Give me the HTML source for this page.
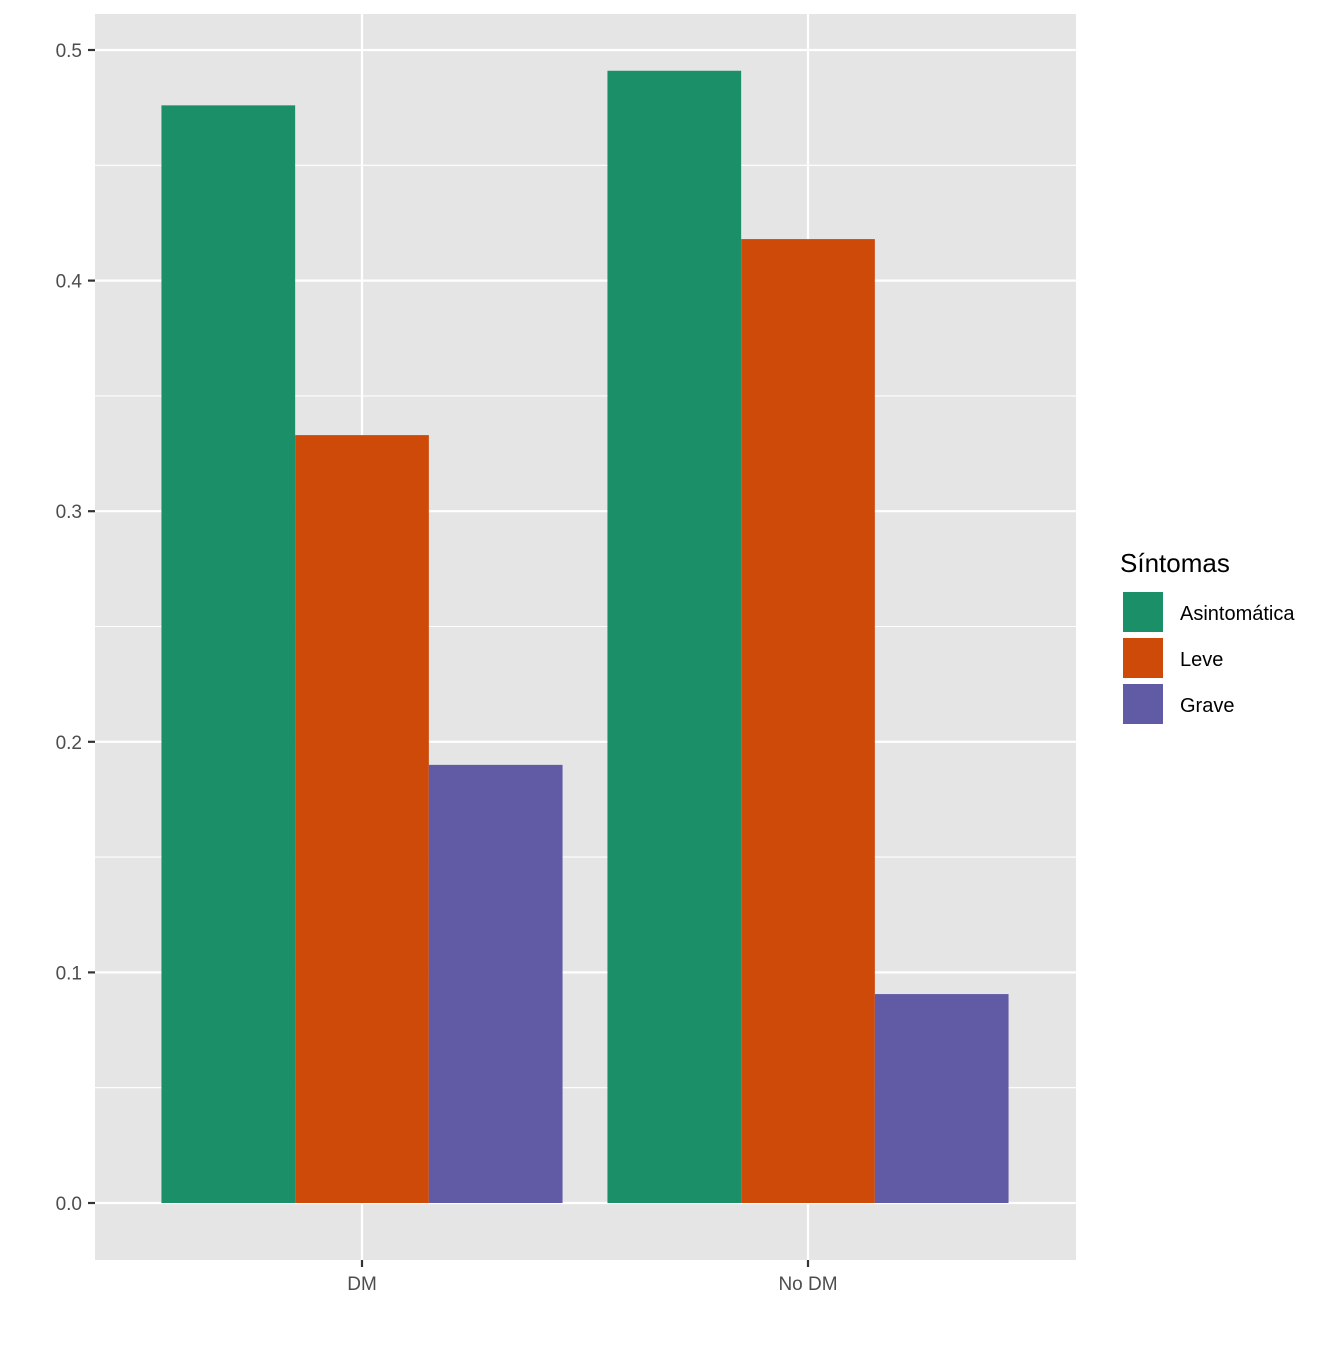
<!DOCTYPE html>
<html><head><meta charset="utf-8"><style>
body{margin:0;background:#fff}
svg text{font-family:"Liberation Sans",Arial,sans-serif}
</style></head><body>
<svg id="chart" width="1344" height="1344" xmlns="http://www.w3.org/2000/svg">
<rect x="95" y="14" width="981" height="1246" fill="#e5e5e5"/>
<g id="grid"></g><g id="bars"></g><g id="axes"></g><g id="legend"></g>
</svg>
<script>
const categories=["DM","No DM"];
const series=["Asintomática","Leve","Grave"];
const colors=["#1b9068","#cd4a09","#615aa5"];
const asintomatica=[0.476,0.491];
const leve=[0.333,0.418];
const grave=[0.190,0.0906];
const yTicks=[0,0.1,0.2,0.3,0.4,0.5];
const yTickLabels=["0.0","0.1","0.2","0.3","0.4","0.5"];
const values=[asintomatica,leve,grave];
const NS="http://www.w3.org/2000/svg";
const y0=1203,ySc=2306;
const yPos=v=>y0-v*ySc;
const xCenter=i=>362+i*446;
const barW=133.7;
function mk(tag,attrs,parent,text){const e=document.createElementNS(NS,tag);for(const k in attrs)e.setAttribute(k,attrs[k]);if(text!==undefined)e.textContent=text;parent.appendChild(e);return e;}
const grid=document.getElementById('grid'),bars=document.getElementById('bars'),axes=document.getElementById('axes'),legend=document.getElementById('legend');
for(let i=0;i<yTicks.length-1;i++){const v=(yTicks[i]+yTicks[i+1])/2;
const l=mk('line',{x1:95,x2:1076,y1:yPos(v),y2:yPos(v),stroke:'#fff','stroke-width':1.1},grid);

}
yTicks.forEach((v,i)=>{
const l=mk('line',{x1:95,x2:1076,y1:yPos(v),y2:yPos(v),stroke:'#fff','stroke-width':2.2},grid);


const t=mk('line',{x1:88,x2:95,y1:yPos(v),y2:yPos(v),stroke:'#333','stroke-width':2.2},axes);


const tx=mk('text',{x:82,y:yPos(v)+7,'text-anchor':'end','font-size':19,fill:'#4d4d4d'},axes,yTickLabels[i]);

});
categories.forEach((c,i)=>{
const l=mk('line',{x1:xCenter(i),x2:xCenter(i),y1:14,y2:1260,stroke:'#fff','stroke-width':2.2},grid);


const t=mk('line',{x1:xCenter(i),x2:xCenter(i),y1:1260,y2:1267,stroke:'#333','stroke-width':2.2},axes);


const tx=mk('text',{x:xCenter(i),y:1290,'text-anchor':'middle','font-size':19,fill:'#4d4d4d'},axes,c);


values.forEach((arr,s)=>{
const x=xCenter(i)-1.5*barW+s*barW;
const r=mk('rect',{x:x,y:yPos(arr[i]),width:barW,height:y0-yPos(arr[i]),fill:colors[s]},bars);

});});
const lt=mk('text',{x:1120,y:572,'font-size':26,fill:'#000'},legend,'Síntomas');


series.forEach((s,i)=>{
const r=mk('rect',{x:1122,y:591+i*46,width:42,height:42,fill:colors[i],stroke:'#fff','stroke-width':2},legend);


const t=mk('text',{x:1180,y:620+i*46,'font-size':20,fill:'#000'},legend,s);

});
</script>
</body></html>
